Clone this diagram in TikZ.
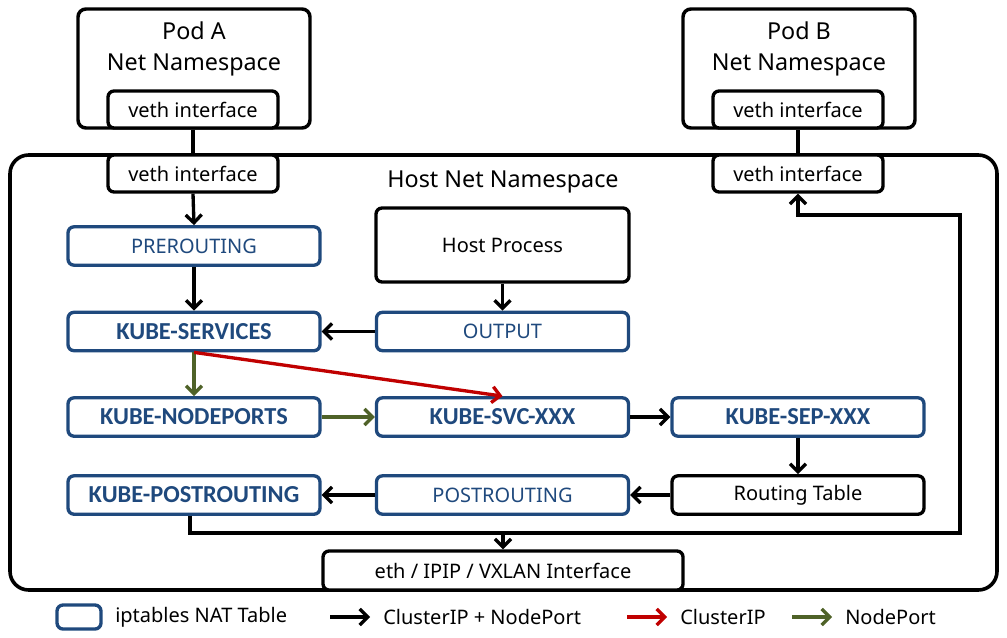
\documentclass[tikz,border=0pt]{standalone}
\usepackage{fontspec}
\setmainfont{Noto Sans}
\newfontfamily\kubefont{Carlito}
\usetikzlibrary{arrows.meta}
\definecolor{nblue}{RGB}{31,73,125}
\definecolor{ngreen}{RGB}{79,98,40}
\definecolor{nred}{RGB}{192,0,0}
\begin{document}
\begin{tikzpicture}[x=0.75pt,y=-0.75pt,
  base/.style={line width=2.5pt,rounded corners=4.5pt,fill=white,inner sep=0pt,font=\fontsize{15}{18}\selectfont},
  blk/.style={base,draw=black},
  nat/.style={base,draw=nblue,text=nblue},
  natb/.style={nat,font=\fontsize{18.3}{20}\kubefont\bfseries},
  std/.style={minimum width=189pt,minimum height=28.8pt},
  veth/.style={blk,minimum width=127.5pt,minimum height=27.75pt},
  pod/.style={draw=black,line width=2.6pt,rounded corners=6pt,fill=white,inner sep=0pt,minimum width=174pt,minimum height=89.25pt},
  title/.style={font=\fontsize{17.5}{21}\selectfont,align=center},
  arr/.style={draw=black,line width=2.5pt,-{Straight Barb[length=6pt,width=12pt]}},
  garr/.style={arr,draw=ngreen},
  rarr/.style={arr,draw=nred},
  ln/.style={draw=black,line width=2.5pt},
  lgd/.style={anchor=west,inner sep=0pt,font=\fontsize{15}{18}\selectfont}
]
\useasboundingbox (0,0) rectangle (1007,638);
% host namespace
\node[draw=black,line width=2.7pt,rounded corners=14pt,inner sep=0pt,minimum width=740.25pt,minimum height=326.25pt] (host) at (503.5,372.5) {};
\node[title] (hostlbl) at (503,182) {Host Net Namespace};
% pods
\node[pod] (podA) at (194,68.5) {};
\node[title] (podAlbl) at (194,49) {Pod A\\[2.5pt]Net Namespace};
\node[veth] (vA) at (193,109.5) {veth interface};
\node[pod] (podB) at (799,68.5) {};
\node[title] (podBlbl) at (799,49) {Pod B\\[2.5pt]Net Namespace};
\node[veth] (vB) at (798,109.5) {veth interface};
% host interfaces
\node[veth] (hvA) at (193,173.5) {veth interface};
\node[veth] (hvB) at (798,173.5) {veth interface};
\node[blk,minimum width=270pt,minimum height=29.25pt] (eth) at (503,570.5) {eth / IPIP / VXLAN Interface};
% chains
\node[nat,std] (pre) at (194,246) {PREROUTING};
\node[blk,minimum width=189.75pt,minimum height=55.5pt] (hp) at (502.5,245) {Host Process};
\node[nat,std] (out) at (502.5,331.5) {OUTPUT};
\node[natb,std] (ksvcs) at (194,331.5) {KUBE-SERVICES};
\node[natb,std] (knp) at (194,417) {KUBE-NODEPORTS};
\node[natb,std] (ksvc) at (502.5,417) {KUBE-SVC-XXX};
\node[natb,std] (ksep) at (798,417) {KUBE-SEP-XXX};
\node[natb,std] (kpost) at (194,495) {KUBE-POSTROUTING};
\node[nat,std] (post) at (502.5,495) {POSTROUTING};
\node[blk,std] (rt) at (798,495) {Routing Table};
% connectors
\draw[ln] (vA.south) -- (hvA.north);
\draw[ln] (vB.south) -- (hvB.north);
\draw[arr] (hvA.south) -- (pre.north);
\draw[arr] (pre.south) -- (ksvcs.north);
\draw[arr] (hp.south) -- (out.north);
\draw[arr] (out.west) -- (ksvcs.east);
\draw[garr] (ksvcs.south) -- (knp.north);
\draw[rarr] (ksvcs.south) -- (ksvc.north);
\draw[garr] (knp.east) -- (ksvc.west);
\draw[arr] (ksvc.east) -- (ksep.west);
\draw[arr] (ksep.south) -- (rt.north);
\draw[arr] (rt.west) -- (post.east);
\draw[arr] (post.west) -- (kpost.east);
\coordinate (j1) at (960,533);
\coordinate (j2) at (960,215);
\draw[arr] ([xshift=-3pt]kpost.south) |- (j1) -- (j2) -| (hvB.south);
\coordinate (j3) at (503,533);
\draw[arr] (j3) -- (eth.north);
% legend
\node[draw=nblue,line width=2.5pt,rounded corners=4.5pt,inner sep=0pt,minimum width=33pt,minimum height=18pt] (lbox) at (79,617) {};
\node[lgd] (l1) at (115,617) {iptables NAT Table};
\coordinate (a1s) at (330,617); \coordinate (a1e) at (370,617);
\draw[arr] (a1s) -- (a1e);
\node[lgd] (l2) at (383,617) {ClusterIP + NodePort};
\coordinate (a2s) at (627,617); \coordinate (a2e) at (667,617);
\draw[rarr] (a2s) -- (a2e);
\node[lgd] (l3) at (680,617) {ClusterIP};
\coordinate (a3s) at (792,617); \coordinate (a3e) at (832,617);
\draw[garr] (a3s) -- (a3e);
\node[lgd] (l4) at (845,617) {NodePort};
\end{tikzpicture}
\end{document}
